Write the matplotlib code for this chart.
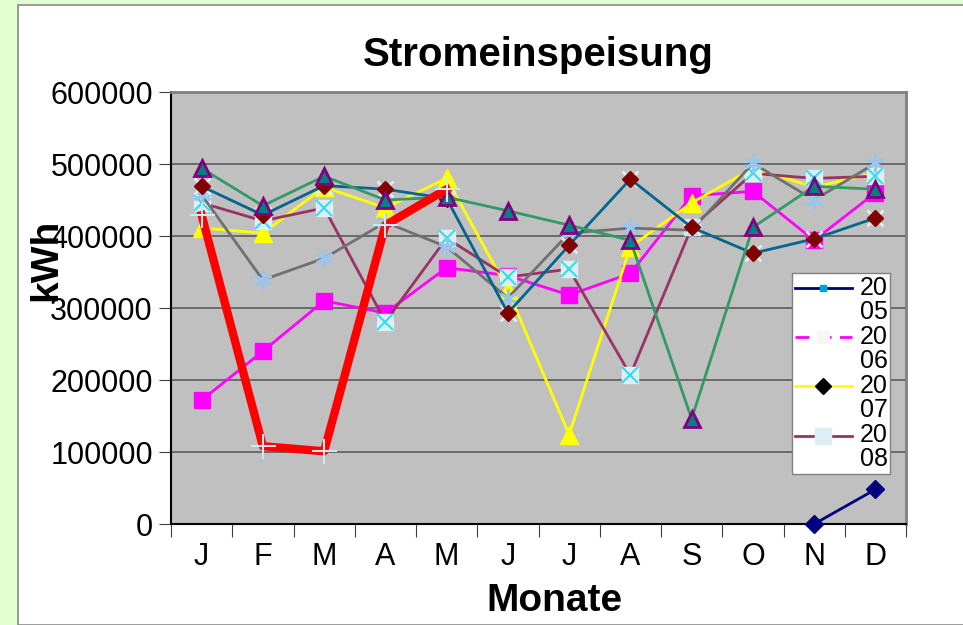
import numpy as np
import matplotlib
matplotlib.use("Agg")
import matplotlib.pyplot as plt
from matplotlib.lines import Line2D
from matplotlib.patches import Rectangle
from matplotlib.legend_handler import HandlerLine2D

plt.rcParams["font.family"] = ["Liberation Sans", "DejaVu Sans"]

# ----- Data -----
months = ["J", "F", "M", "A", "M", "J", "J", "A", "S", "O", "N", "D"]
nan = np.nan
kwh_2005 = [nan, nan, nan, nan, nan, nan, nan, nan, nan, nan, 0, 48000]
kwh_2006 = [172000, 240000, 310000, 293000, 356000, 345000, 318000, 348000, 456000, 462000, 394000, 460000]
kwh_2007 = [411000, 404000, 468000, 439000, 480000, 325000, 124000, 385000, 446000, 494000, 468000, 487000]
kwh_2008 = [446000, 421000, 439000, 281000, 397000, 343000, 354000, 207000, 412000, 487000, 480000, 483000]
kwh_2009 = [457000, 339000, 369000, 419000, 385000, 314000, 404000, 411000, 408000, 501000, 450000, 501000]
kwh_2010 = [469000, 429000, 470000, 465000, 452000, 293000, 387000, 479000, 412000, 376000, 396000, 425000]
kwh_2011 = [494000, 442000, 483000, 450000, 454000, 435000, 415000, 394000, 146000, 412000, 469000, 465000]
kwh_2012 = [429000, 108000, 101000, 415000, 465000, nan, nan, nan, nan, nan, nan, nan]
legend_labels = ["20\n05", "20\n06", "20\n07", "20\n08"]

x = np.arange(len(months))


class FirstLineHandler(HandlerLine2D):
    # put the legend line next to the first text line instead of between the two
    def create_artists(self, legend, orig_handle, xdescent, ydescent, width, height, fontsize, trans):
        arts = super().create_artists(legend, orig_handle, xdescent, ydescent, width, height, fontsize, trans)
        for a in arts:
            a.set_ydata(np.asarray(a.get_ydata(), float) + 0.5 * fontsize)
        return arts


fig = plt.figure(figsize=(9.63, 6.25), dpi=100, facecolor="#E2FFD2")
panel = Rectangle((18 / 963, 0), 1, 1 - 5 / 625, transform=fig.transFigure,
                  facecolor="white", edgecolor="#8a8a8a", linewidth=1.2, zorder=-10)
fig.add_artist(panel)

ax = fig.add_axes([171 / 963, 101 / 625, 735 / 963, 432 / 625], zorder=1)
ax.set_facecolor("#C0C0C0")

# ----- Series -----
ax.plot(x, kwh_2005, color="#000080", lw=2, marker="D", ms=9, mfc="#000080", mec="#000080",
        zorder=3, clip_on=False)
ax.plot(x, kwh_2006, color="#FF00FF", lw=2, marker="s", ms=11, mfc="#FF00FF", mec="#FF00FF", zorder=3)
ax.plot(x, kwh_2007, color="#FFFF00", lw=2, marker="^", ms=13, mfc="#FFFF00", mec="#FFFF00", zorder=3)
ax.plot(x, kwh_2008, color="#993366", lw=2, marker="s", ms=11, mfc="#DDEEF6", mec="#DDEEF6", zorder=3)
ax.plot(x, kwh_2008, ls="none", marker="x", ms=11, mec="#33DDEE", mew=1.5, zorder=3)
ax.plot(x, kwh_2009, color="#707070", lw=2, marker=(6, 2, 0), ms=13, mec="#99C4EE", mew=2, zorder=3)
ax.plot(x, kwh_2010, ls="none", marker="x", ms=11, mec="#E0ECF2", mew=2, zorder=3)
ax.plot(x, kwh_2010, color="#00668E", lw=2, marker="D", ms=8, mfc="#800000", mec="#800000", zorder=4)
ax.plot(x, kwh_2011, color="#339966", lw=2, marker="^", ms=12, mfc="#008080", mec="#800080", mew=2, zorder=4)
ax.plot(x, kwh_2012, color="#FF0000", lw=6, marker="+", ms=18, mec="#CCE8F4", mew=1.5, zorder=5)

# ----- Axes -----
ax.set_xlim(-0.5, 11.5)
ax.set_ylim(0, 600000)
ax.set_yticks(np.arange(0, 600001, 100000))
ax.yaxis.grid(True, color="#5a5a5a", lw=1.2)
ax.set_axisbelow(True)
ax.set_xticks(np.arange(-0.5, 12, 1))
ax.set_xticklabels([])
ax.set_xticks(x, minor=True)
ax.set_xticklabels(months, minor=True)
ax.tick_params(axis="x", which="minor", length=0, pad=13, labelsize=22)
ax.tick_params(axis="x", which="major", length=9, color="#404040", direction="out")
ax.tick_params(axis="y", length=9, color="#404040", labelsize=22, pad=4)
for side in ["left", "bottom"]:
    ax.spines[side].set_color("black")
    ax.spines[side].set_linewidth(1.5)
for side in ["right", "top"]:
    ax.spines[side].set_color("#808080")
    ax.spines[side].set_linewidth(2)

fig.text(538 / 963, 1 - 55 / 625, "Stromeinspeisung", ha="center", va="center",
         fontsize=29, fontweight="bold", zorder=2)
fig.text(554 / 963, 1 - 601 / 625, "Monate", ha="center", va="center",
         fontsize=28, fontweight="bold", zorder=2)
fig.text(46 / 963, 1 - 260 / 625, "kWh", ha="center", va="center", rotation=90,
         fontsize=28, fontweight="bold", zorder=2)

# ----- Legend -----
handles = [
    Line2D([], [], color="#000080", lw=2, marker="s", ms=5, mfc="#00A0E0", mec="#00A0E0"),
    Line2D([], [], color="#FF00FF", lw=2, ls=(0, (5, 3)), marker="s", ms=9, mfc="#F6F6F6", mec="#F6F6F6"),
    Line2D([], [], color="#FFFF00", lw=2, marker="D", ms=8, mfc="black", mec="black"),
    Line2D([], [], color="#993366", lw=2, marker="s", ms=11, mfc="#DDEEF6", mec="#DDEEF6"),
]
leg = ax.legend(handles, legend_labels, loc="upper left",
                bbox_to_anchor=(792 / 963, 1 - 273 / 625), bbox_transform=fig.transFigure,
                borderaxespad=0, fontsize=18, handlelength=2.3, labelspacing=0.05,
                handletextpad=0.3, borderpad=0.1, fancybox=False, framealpha=1,
                edgecolor="#808080", handler_map={Line2D: FirstLineHandler()})
leg.get_frame().set_linewidth(1)
for t in leg.get_texts():
    t.set_linespacing(1.0)

fig.savefig("out.png", dpi=100, facecolor=fig.get_facecolor())
